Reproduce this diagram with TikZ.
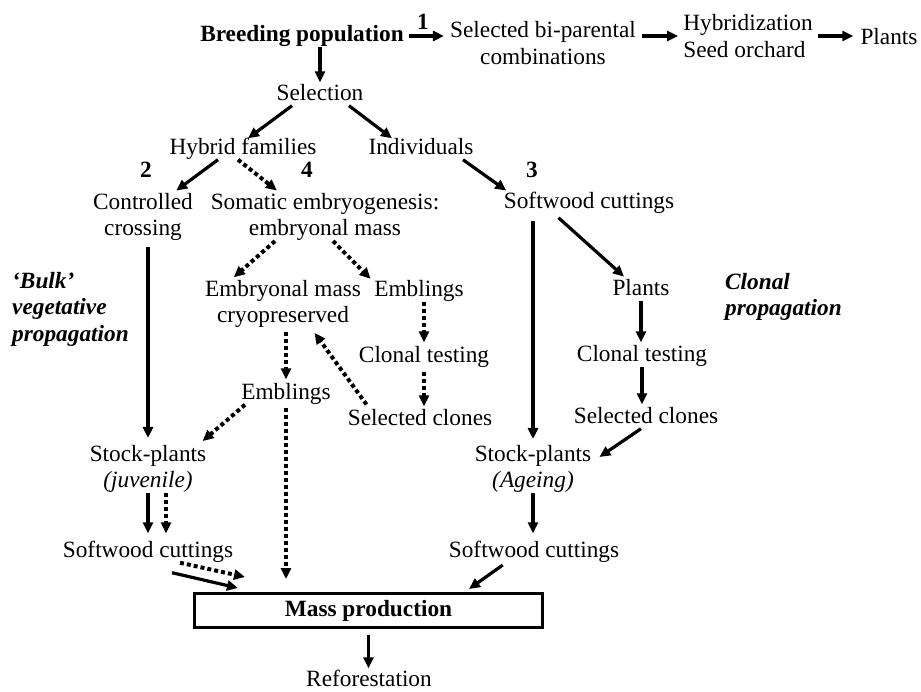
\documentclass[tikz,border=0pt]{standalone}
\usepackage{fontspec}
\setmainfont{Liberation Serif}
\usepackage{tikz}
\usetikzlibrary{arrows.meta,positioning}
\newcommand{\flowfont}{\fontsize{23.3}{26.5}\selectfont}
\tikzset{%
	stage/.style    = {inner sep=0pt, text height=16pt, text depth=5pt},
	stages/.style   = {inner sep=0pt, align=center},
	sidenote/.style = {inner sep=0pt, align=left, anchor=west, font=\flowfont\bfseries\itshape},
	massbox/.style  = {draw, rectangle, line width=3pt, minimum width=348pt, minimum height=34pt, inner sep=0pt},
	arrow/.style    = {line width=3.2pt, -{Triangle[length=11pt,width=10pt]}},
	dotarrow/.style = {arrow, line width=4pt, dash pattern=on 4pt off 3pt},
}
\begin{document}
\begin{tikzpicture}[x=1pt,y=-1pt,font=\flowfont]
	\useasboundingbox (0,0) rectangle (921,691);
	
	% breeding and selection
	\node[stage] (breed) at (302,36) {\textbf{Breeding population}};
	\node[stage] (one) at (423,24) {\textbf{1}};
	\node[stages] (selbi) at (543,43) {Selected bi-parental\\combinations};
	\node[stages,align=left] (hybsd) at (748,36) {Hybridization\\Seed orchard};
	\node[stage] (plants) at (889,39) {Plants};
	\node[stage] (sel) at (320,95) {Selection};
	\node[stage] (hyb) at (243,149) {Hybrid families};
	\node[stage] (ind) at (421,149) {Individuals};
	\node[stage] (two) at (146,172) {\textbf{2}};
	\node[stage] (four) at (307,172) {\textbf{4}};
	\node[stage] (three) at (532,172) {\textbf{3}};
	
	\draw[arrow,shorten <=5pt,shorten >=6pt] (breed.east) -- (breed.east -| selbi.west);
	\draw[arrow,shorten <=6pt,shorten >=5pt] (hybsd.west -| selbi.east) -- (hybsd.west);
	\draw[arrow,shorten <=5pt,shorten >=7pt] (hybsd.east) -- (hybsd.east -| plants.west);
	\draw[arrow,shorten >=2pt] (sel.north |- breed.south) -- (sel.north);
	\draw[arrow] ([xshift=-28]sel.south) -- ([xshift=5]hyb.north);
	\draw[arrow] ([xshift=29]sel.south) -- ([xshift=-29]ind.north);
	
	% three routes
	\node[stages] (ctrl) at (143,217) {Controlled\\crossing};
	\node[stages] (som) at (325,217) {Somatic embryogenesis:\\embryonal mass};
	\node[stage] (softa) at (589,203) {Softwood cuttings};
	\node[sidenote] (bulk) at (12,309) {‘Bulk’\\vegetative\\propagation};
	\node[sidenote] (clonprop) at (725,297) {Clonal\\propagation};
	
	\draw[arrow,shorten >=4pt] ([xshift=-25]hyb.south) -- ([xshift=30]ctrl.north);
	\draw[dotarrow,shorten >=4pt] ([xshift=-5]hyb.south) -- ([xshift=-45]som.north);
	\draw[arrow,shorten >=3pt] ([xshift=42]ind.south) -- ([xshift=5]softa.north west);
	
	% somatic embryogenesis
	\node[stages] (cryo) at (283,304) {Embryonal mass\\cryopreserved};
	\node[stage] (emba) at (419,291) {Emblings};
	\node[stage] (ctesta) at (424,357) {Clonal testing};
	\node[stage] (selcla) at (420,420) {Selected clones};
	\node[stage] (embb) at (286,394) {Emblings};
	
	\draw[dotarrow,shorten >=4pt] ([xshift=-50]som.south) -- ([xshift=26]cryo.north west);
	\draw[dotarrow,shorten >=2pt] ([xshift=8]som.south) -- ([xshift=-47]emba.north);
	\draw[dotarrow,shorten >=4pt] (ctesta.north |- emba.south) -- (ctesta.north);
	\draw[dotarrow,shorten <=4pt,shorten >=3pt] (ctesta.south) -- (ctesta.south |- selcla.north);
	\draw[dotarrow,shorten <=6pt,shorten >=6pt] ([xshift=-50]selcla.north) -- ([xshift=28]cryo.south);
	\draw[dotarrow,shorten <=4pt,shorten >=4pt] (embb.north |- cryo.south) -- (embb.north);
	
	% clonal propagation
	\node[stage] (plantsb) at (641,290) {Plants};
	\node[stage] (ctestb) at (642,356) {Clonal testing};
	\node[stage] (selclb) at (646,418) {Selected clones};
	
	\draw[arrow,shorten <=6pt,shorten >=4pt] ([xshift=-35]softa.south) -- ([xshift=-14]plantsb.north);
	\draw[arrow,shorten >=3pt] (plantsb.south) -- (plantsb.south |- ctestb.north);
	\draw[arrow,shorten >=3pt] (ctestb.south) -- (ctestb.south |- selclb.north);
	
	% stock-plants and cuttings
	\node[stages] (stocka) at (148,469) {Stock-plants\\\textit{(juvenile)}};
	\node[stages] (stockb) at (533,469) {Stock-plants\\\textit{(Ageing)}};
	\node[stage] (softb) at (148,552) {Softwood cuttings};
	\node[stage] (softc) at (534,552) {Softwood cuttings};
	\node[massbox] (mass) at (368.5,610.5) {\textbf{Mass production}};
	\node[stage,text depth=0pt] (refo) at (369,678.5) {Reforestation};
	
	\draw[arrow,shorten <=6pt,shorten >=7pt] (ctrl.south -| stocka.north) -- (stocka.north);
	\draw[dotarrow,shorten >=6pt] ([xshift=-41]embb.south) -- ([xshift=50]stocka.north);
	\draw[dotarrow,shorten <=3pt,shorten >=13pt] (embb.south) -- (embb.south |- mass.north);
	\draw[arrow,shorten <=7pt,shorten >=6pt] (stockb.north |- softa.south) -- (stockb.north);
	\draw[arrow] ([xshift=-5]selclb.south) -- ([xshift=8,yshift=-12]stockb.north east);
	
	\draw[arrow,shorten >=8pt] (stocka.south) -- (softb.north);
	\draw[dotarrow,shorten >=8pt] ([xshift=18]stocka.south) -- ([xshift=18]softb.north);
	\draw[arrow,shorten >=8pt] (stockb.south) -- (stockb.south |- softc.north);
	
	\draw[dotarrow] ([xshift=32]softb.south) -- ([xshift=52,yshift=15]mass.north west);
	\draw[arrow] ([xshift=24,yshift=-10]softb.south) -- ([xshift=45,yshift=4]mass.north west);
	\draw[arrow,shorten <=4pt] ([xshift=-28]softc.south) -- ([xshift=-75,yshift=3]mass.north east);
	\draw[arrow,shorten <=6pt,shorten >=2pt] (mass.south) -- (mass.south |- refo.north);
\end{tikzpicture}
\end{document}
